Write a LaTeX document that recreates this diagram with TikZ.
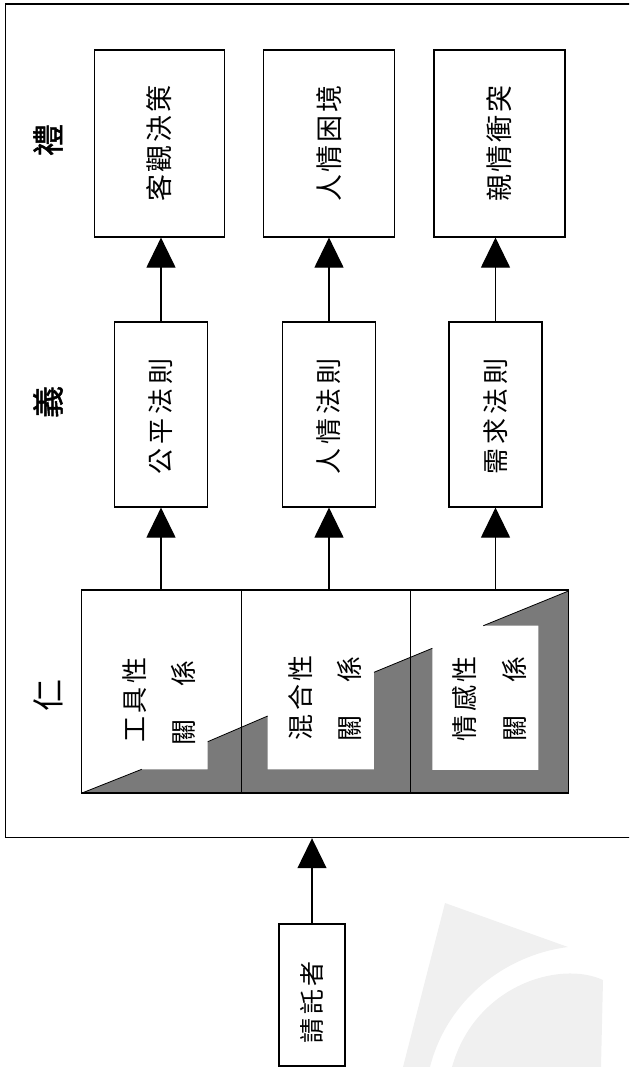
\documentclass[tikz,border=0pt]{standalone}
\usepackage{fontspec}
\usetikzlibrary{arrows.meta}
\newfontfamily\cjk{Noto Sans CJK TC}
\newfontfamily\cjkb[FakeBold=1.5]{Noto Sans CJK TC}
\definecolor{darkfill}{gray}{0.48}
\definecolor{wmark}{gray}{0.94}
\begin{document}
\begin{tikzpicture}[x=1pt,y=-1pt,
  box/.style={draw, line width=1.2pt, inner sep=0pt},
  vtxt/.style={rotate=90, inner sep=0pt, font=\cjk\fontsize{#1}{#1}\selectfont},
  vtxt/.default=25,
  lab/.style={rotate=90, inner sep=0pt, font=\cjkb\fontsize{32}{32}\selectfont},
  arr/.style={line width=1.2pt, -{Triangle[width=29pt,length=30pt]}}]
\useasboundingbox (0,0) rectangle (629,1067);
\clip (0,0) rectangle (629,1067);
% faint watermark
\fill[wmark] (445,903) -- (568,947) .. controls (505,955) and (447,1000) .. (430,1067) -- (403,1067) -- cycle;
\fill[wmark] (603,980) .. controls (560,960) and (475,985) .. (452,1067) -- (601,1067) -- cycle;
% outer frame (runs off the right side)
\node[box, minimum width=720, minimum height=833.5, anchor=north west] (frame) at (5,3.5) {};
% labels
\node[lab] (lli) at (48,140) {禮};
\node[lab] (lyi) at (48,402) {義};
\node[rotate=90, inner sep=0pt, font=\cjk\fontsize{32}{32}\selectfont] (lren) at (48,695) {仁};
% top row
\node[box, minimum width=130, minimum height=187] (li1) at (159.5,143.5) {};
\node[box, minimum width=130.5, minimum height=187] (li2) at (329,143.5) {};
\node[box, minimum width=131, minimum height=187] (li3) at (499.5,143.5) {};
\node[vtxt=27] (li1t) at (li1) {客\kern3pt 觀\kern3pt 決\kern3pt 策};
\node[vtxt=27] (li2t) at (li2) {人\kern3pt 情\kern3pt 困\kern3pt 境};
\node[vtxt=27] (li3t) at (li3) {親\kern3pt 情\kern3pt 衝\kern3pt 突};
% middle row
\node[box, minimum width=92.5, minimum height=185] (yi1) at (161,414.5) {};
\node[box, minimum width=92.5, minimum height=185] (yi2) at (329,414.5) {};
\node[box, minimum width=93, minimum height=185] (yi3) at (495.5,414.5) {};
\node[vtxt=26] (yi1t) at (161,416.5) {公\kern4pt 平\kern4pt 法\kern4pt 則};
\node[vtxt=26] (yi2t) at (329,416.5) {人\kern4pt 情\kern4pt 法\kern4pt 則};
\node[vtxt=26] (yi3t) at (495.5,416.5) {需\kern4pt 求\kern4pt 法\kern4pt 則};
% ren block shading
\fill[darkfill] (82,793) -- (568.5,793) -- (568.5,591) -- (483.3,625.7) -- (538.3,625.7)
  -- (538.3,770) -- (432.3,770) -- (432.3,648.3) -- (374,672.3) -- (374,769.3)
  -- (267.7,769.3) -- (267.7,716) -- (207.7,741.7) -- (207.7,769.3) -- (141.7,769.3) -- cycle;
\draw[line width=0.8pt] (82,793) -- (141.7,769.3);
\draw[line width=0.8pt] (207.7,741.7) -- (267.7,716);
\draw[line width=0.8pt] (374,672.3) -- (432.3,648.3);
\draw[line width=0.8pt] (483.3,625.7) -- (568.5,591);
\node[box, minimum width=487, minimum height=203] (ren) at (325.25,691.5) {};
\draw[line width=1pt] (241.8,590) -- (241.8,793);
\draw[line width=1pt] (410,590) -- (410,793);
\node[vtxt=26] (r1a) at (135,700) {工\kern3.5pt 具\kern3.5pt 性};
\node[vtxt=26] (r1b) at (183,702.5) {關\kern33pt 係};
\node[vtxt=26] (r2a) at (301,697.5) {混\kern3.5pt 合\kern3.5pt 性};
\node[vtxt=26] (r2b) at (349,699) {關\kern33pt 係};
\node[vtxt=26] (r3a) at (465,698.5) {情\kern3.5pt 感\kern3.5pt 性};
\node[vtxt=26] (r3b) at (514,699) {關\kern33pt 係};
% requester
\node[box, minimum width=66, minimum height=142] (req) at (312,995) {};
\node[vtxt=25] (reqt) at (312,1002) {請\kern3.5pt 託\kern3.5pt 者};
% arrows
\draw[arr] (yi1.north) -- (li1.south -| yi1.north);
\draw[arr] (yi2.north) -- (li2.south -| yi2.north);
\draw[arr] (yi3.north) -- (li3.south -| yi3.north);
\draw[arr] (ren.north -| yi1.south) -- (yi1.south);
\draw[arr] (ren.north -| yi2.south) -- (yi2.south);
\draw[arr] (ren.north -| yi3.south) -- (yi3.south);
\draw[arr] (req.north) -- (req.north |- frame.south);
\end{tikzpicture}
\end{document}
